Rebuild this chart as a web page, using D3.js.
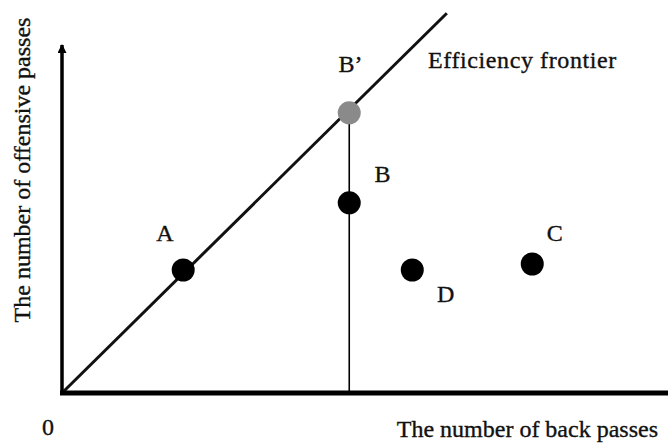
<!DOCTYPE html>
<html>
<head>
<meta charset="utf-8">
<script src="https://cdn.jsdelivr.net/npm/d3@7"></script>
<style>
  html, body { margin: 0; padding: 0; background: #fff; }
  svg { display: block; }
  text { font-family: "Liberation Serif", "Times New Roman", serif; fill: #111; stroke: #111; stroke-width: 0.35px; }
</style>
</head>
<body>
<div id="chart"></div>
<script>
// ---- data ----
const pointNames = ["A", "B’", "B", "D", "C"];
const pointX = [2.0, 4.74, 4.74, 5.78, 7.76];
const pointY = [2.05, 4.67, 3.17, 2.05, 2.15];
const pointFill = ["#000", "#8a8a8a", "#000", "#000", "#000"];
// label offsets (in data units) relative to each point
const labelDX = [-0.3, 0.02, 0.55, 0.55, 0.37];
const labelDY = [0.48, 0.68, 0.35, -0.53, 0.38];
const frontierX = [0, 6.35];
const frontierY = [0, 6.33];
const frontierLabel = "Efficiency frontier";
const xTitle = "The number of back passes";
const yTitle = "The number of offensive passes";
const originLabel = "0";

const W = 668, H = 447;
const x = d3.scaleLinear().domain([0, 10]).range([62, 668]);
const y = d3.scaleLinear().domain([0, 6]).range([393, 33]);

const svg = d3.select("#chart").append("svg").attr("width", W).attr("height", H);

svg.append("defs").append("marker")
  .attr("id", "arrow").attr("viewBox", "0 0 10 10")
  .attr("refX", 5).attr("refY", 1)
  .attr("markerWidth", 9).attr("markerHeight", 12)
  .attr("markerUnits", "userSpaceOnUse")
  .attr("orient", "0")
  .append("path").attr("d", "M0,10 L5,0 L10,10 Z").attr("fill", "#000");

// vertical projection line B' -> x axis
svg.append("line")
  .attr("x1", x(pointX[1])).attr("x2", x(pointX[1]))
  .attr("y1", y(pointY[1])).attr("y2", y(0))
  .attr("stroke", "#000").attr("stroke-width", 1.6);

// frontier
svg.append("line")
  .attr("x1", x(frontierX[0])).attr("y1", y(frontierY[0]))
  .attr("x2", x(frontierX[1])).attr("y2", y(frontierY[1]))
  .attr("stroke", "#111").attr("stroke-width", 3);

// axes
svg.append("line")
  .attr("x1", x(0)).attr("x2", x(0))
  .attr("y1", y(0) + 2).attr("y2", y(6) + 12)
  .attr("stroke", "#000").attr("stroke-width", 3.5)
  .attr("marker-end", "url(#arrow)");
svg.append("line")
  .attr("x1", x(0) - 2).attr("x2", x(10))
  .attr("y1", y(0)).attr("y2", y(0))
  .attr("stroke", "#000").attr("stroke-width", 5);

// points
svg.selectAll("circle.pt").data(pointX).enter().append("circle")
  .attr("class", "pt")
  .attr("cx", (d) => x(d))
  .attr("cy", (d, i) => y(pointY[i]))
  .attr("r", 11.5)
  .attr("fill", (d, i) => pointFill[i]);

// point labels
svg.selectAll("text.lbl").data(pointNames).enter().append("text")
  .attr("class", "lbl")
  .attr("x", (d, i) => x(pointX[i] + labelDX[i]))
  .attr("y", (d, i) => y(pointY[i] + labelDY[i]))
  .attr("text-anchor", "middle")
  .attr("font-size", 24)
  .text((d) => d);

svg.append("text")
  .attr("x", 428).attr("y", 68)
  .attr("font-size", 24)
  .attr("letter-spacing", 0.6)
  .text(frontierLabel);

svg.append("text")
  .attr("x", 658).attr("y", 437)
  .attr("text-anchor", "end")
  .attr("font-size", 24)
  .text(xTitle);

svg.append("text")
  .attr("transform", "translate(30,170) rotate(-90)")
  .attr("text-anchor", "middle")
  .attr("font-size", 24)
  .text(yTitle);

svg.append("text")
  .attr("x", 48).attr("y", 435)
  .attr("text-anchor", "middle")
  .attr("font-size", 24)
  .text(originLabel);
</script>
</body>
</html>
